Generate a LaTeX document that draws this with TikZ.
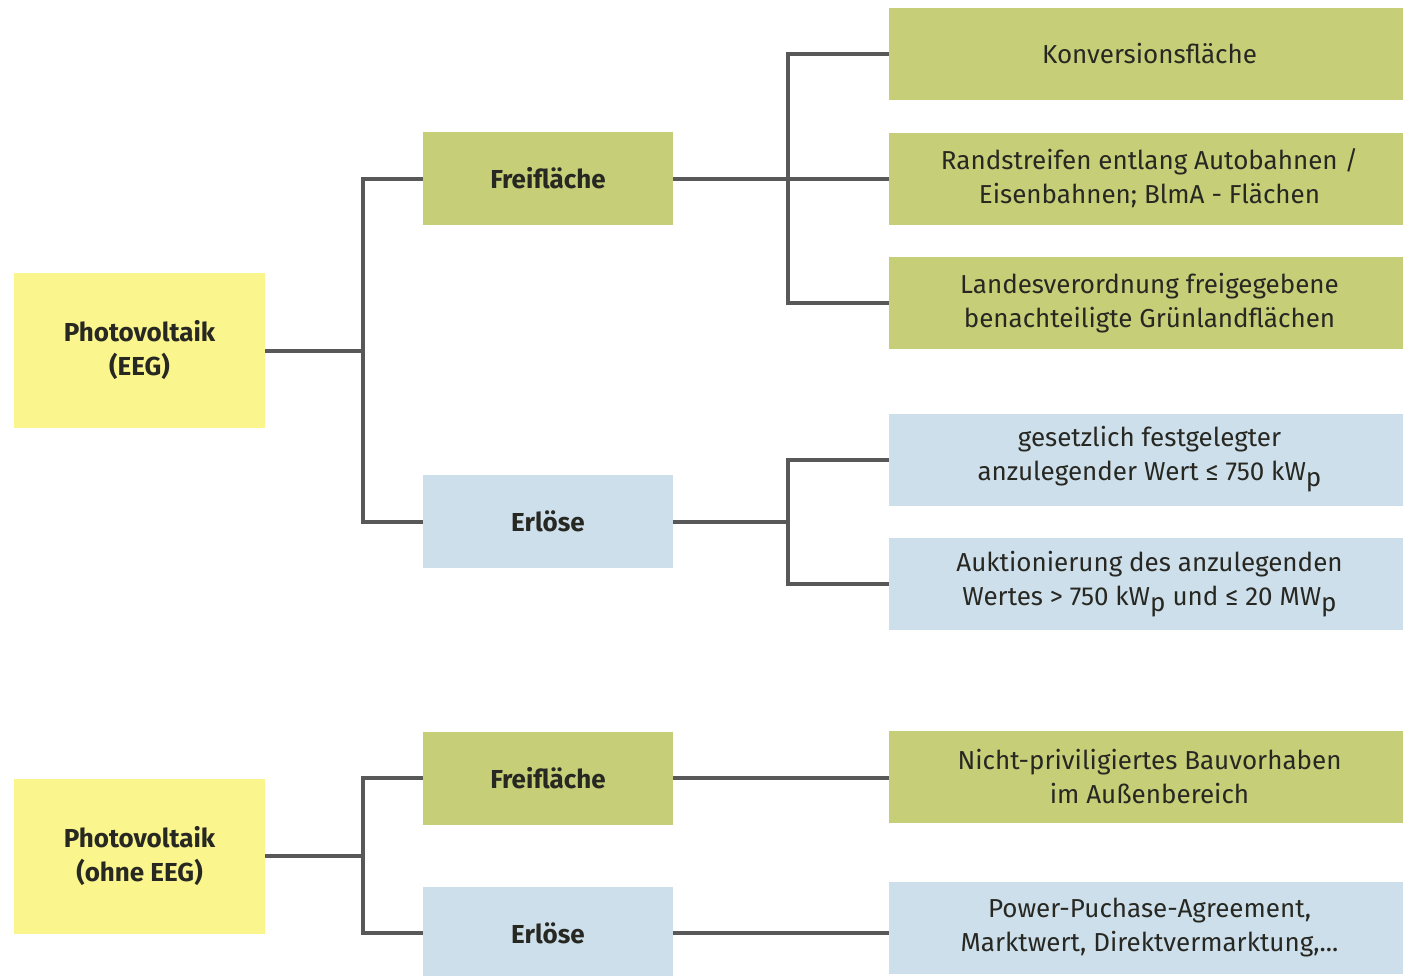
\documentclass[tikz,border=0pt]{standalone}
\usepackage{fontspec}
\setmainfont{Fira Sans}
\definecolor{pvyellow}{RGB}{250,245,140}
\definecolor{pvgreen}{RGB}{198,206,120}
\definecolor{pvblue}{RGB}{205,223,234}
\definecolor{pvline}{RGB}{88,88,88}
\definecolor{pvtext}{RGB}{40,40,35}
\newcommand{\subp}{\raisebox{-0.45ex}{p}}
\begin{document}
\begin{tikzpicture}[x=0.5pt,y=-0.5pt,
  box/.style={rectangle, inner sep=0pt, align=center, text=pvtext,
    font=\fontsize{13}{17}\selectfont},
  rootbox/.style={box, fill=pvyellow, minimum width=125.5pt, minimum height=77.5pt,
    font=\fontsize{13}{17}\selectfont\bfseries},
  midgreen/.style={box, fill=pvgreen, minimum width=125pt, minimum height=46.5pt,
    font=\fontsize{13}{17}\selectfont\bfseries},
  midblue/.style={box, fill=pvblue, minimum width=125pt, minimum height=46.5pt,
    font=\fontsize{13}{17}\selectfont\bfseries},
  leafgreen/.style={box, fill=pvgreen, minimum width=260.5pt, minimum height=46pt},
  leafblue/.style={box, fill=pvblue, minimum width=260.5pt, minimum height=46pt},
  conn/.style={draw=pvline, line width=2pt}]
\useasboundingbox (0,0) rectangle (1403,975);

% upper tree
\node[rootbox] (pv1) at (139.5,350.5) {Photovoltaik\\(EEG)};
\node[midgreen] (fr1) at (548,178.5) {Freifläche};
\node[midblue] (er1) at (548,521.5) {Erlöse};
\node[leafgreen] (r1) at (1149.5,54) {Konversionsfläche};
\node[leafgreen] (r2) at (1149.5,178.5) {Randstreifen entlang Autobahnen /\\Eisenbahnen; BlmA - Flächen};
\node[leafgreen] (r3) at (1149.5,303) {Landesverordnung freigegebene\\benachteiligte Grünlandflächen};
\node[leafblue] (r4) at (1149.5,459.5) {gesetzlich festgelegter\\anzulegender Wert ≤ 750 kW\subp};
\node[leafblue] (r5) at (1149.5,584) {Auktionierung des anzulegenden\\Wertes > 750 kW\subp{} und ≤ 20 MW\subp};

\coordinate (j1) at (363,350.5);
\coordinate (j2) at (788,178.5);
\coordinate (j3) at (788,521.5);
\draw[conn] (pv1.east) -- (j1);
\draw[conn] (fr1.west) -| (j1);
\draw[conn] (er1.west) -| (j1);
\draw[conn] (fr1.east) -- (r2.west);
\draw[conn] (r1.west) -| (j2);
\draw[conn] (r3.west) -| (j2);
\draw[conn] (er1.east) -- (j3);
\draw[conn] (r4.west) -| (j3);
\draw[conn] (r5.west) -| (j3);

% lower tree
\node[rootbox] (pv2) at (139.5,856) {Photovoltaik\\(ohne EEG)};
\node[midgreen] (fr2) at (548,778) {Freifläche};
\node[midblue] (er2) at (548,933) {Erlöse};
\node[leafgreen] (r6) at (1149.5,777) {Nicht-priviligiertes Bauvorhaben\\im Außenbereich};
\node[leafblue] (r7) at (1149.5,928) {Power-Puchase-Agreement,\\Marktwert, Direktvermarktung,...};

\coordinate (j4) at (363,856);
\draw[conn] (pv2.east) -- (j4);
\draw[conn] (fr2.west) -| (j4);
\draw[conn] (er2.west) -| (j4);
\draw[conn] (fr2.east) -- (fr2.east -| r6.west);
\draw[conn] (er2.east) -- (er2.east -| r7.west);
\end{tikzpicture}
\end{document}
